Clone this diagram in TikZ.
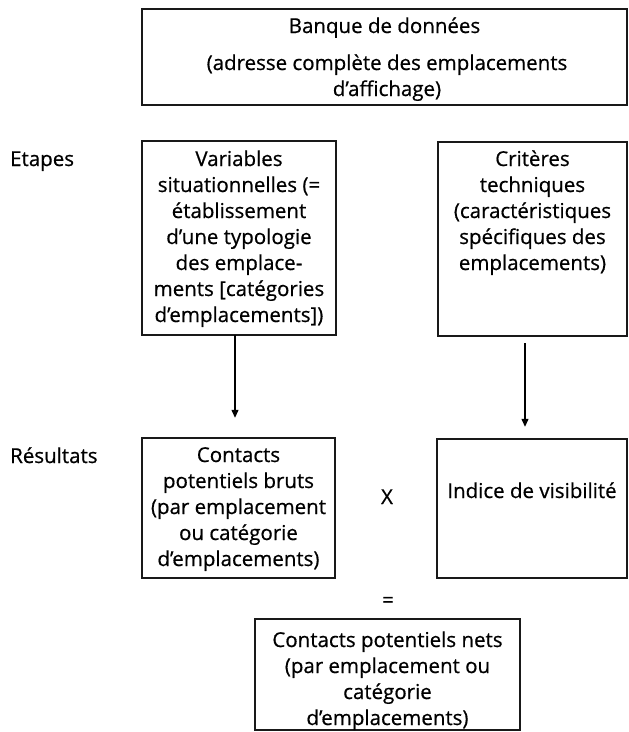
\documentclass[tikz,border=0pt]{standalone}
\usepackage{fontspec}
\setmainfont{Open Sans}[UprightFeatures={FakeBold=0.6}]
\usetikzlibrary{arrows.meta}
\begin{document}
\begin{tikzpicture}[x=1pt,y=-1pt,
  box/.style={draw=black!90,line width=1.4pt},
  txt/.style={anchor=base,inner sep=0pt,align=center,font=\fontsize{20.5}{26}\selectfont},
  lbl/.style={anchor=base west,inner sep=0pt,font=\fontsize{20.5}{26}\selectfont},
  arr/.style={line width=1.2pt,-{Triangle[length=8pt,width=7pt]}}]
\useasboundingbox (0,0) rectangle (629,732);
% boxes
\draw[box] (142,9) rectangle (627,105);
\node[inner sep=0pt] (bank) at (384.5,57) {};
\draw[box] (142,141) rectangle (336,335);
\node[inner sep=0pt,minimum width=194pt,minimum height=194pt] (var) at (239,238) {};
\draw[box] (438,142) rectangle (627,336);
\node[inner sep=0pt,minimum width=189pt,minimum height=194pt] (crit) at (532.5,239) {};
\draw[box] (142,438) rectangle (335,578);
\node[inner sep=0pt,minimum width=193pt,minimum height=140pt] (brut) at (238.5,508) {};
\draw[box] (437,439) rectangle (627,578);
\node[inner sep=0pt,minimum width=190pt,minimum height=139pt] (vis) at (532,508.5) {};
\draw[box] (255,619) rectangle (520,730);
\node[inner sep=0pt,minimum width=265pt,minimum height=111pt] (net) at (387.5,674.5) {};
% texts (anchor base = baseline of last line)
\node[txt] (t1) at (384.5,33) {Banque de données};
\node[txt] (t2) at (387,96) {(adresse complète des emplacements\\d’affichage)};
\node[txt] (t3) at (239,322) {Variables\\situationnelles (=\\établissement\\d’une typologie\\des emplace-\\ments [catégories\\d’emplacements])};
\node[txt] (t4) at (532.5,270) {Critères\\techniques\\(caractéristiques\\spécifiques des\\emplacements)};
\node[txt] (t5) at (238.5,566) {Contacts\\potentiels bruts\\(par emplacement\\ou catégorie\\d’emplacements)};
\node[txt] (t6) at (532,498) {Indice de visibilité};
\node[txt] (t7) at (387.5,725) {Contacts potentiels nets\\(par emplacement ou\\catégorie\\d’emplacements)};
\node[txt] (times) at (387,504) {X};
\node[txt] (eq) at (388,607) {=};
\node[lbl] (etapes) at (10,166) {Etapes};
\node[lbl] (res) at (10,463) {Résultats};
% arrows
\draw[arr] ([xshift=-4pt]var.south) -- ([xshift=-3.5pt,yshift=20pt]brut.north);
\draw[arr] ([xshift=-7.5pt,yshift=-7pt]crit.south) -- ([xshift=-7pt,yshift=12pt]vis.north);
\end{tikzpicture}
\end{document}
